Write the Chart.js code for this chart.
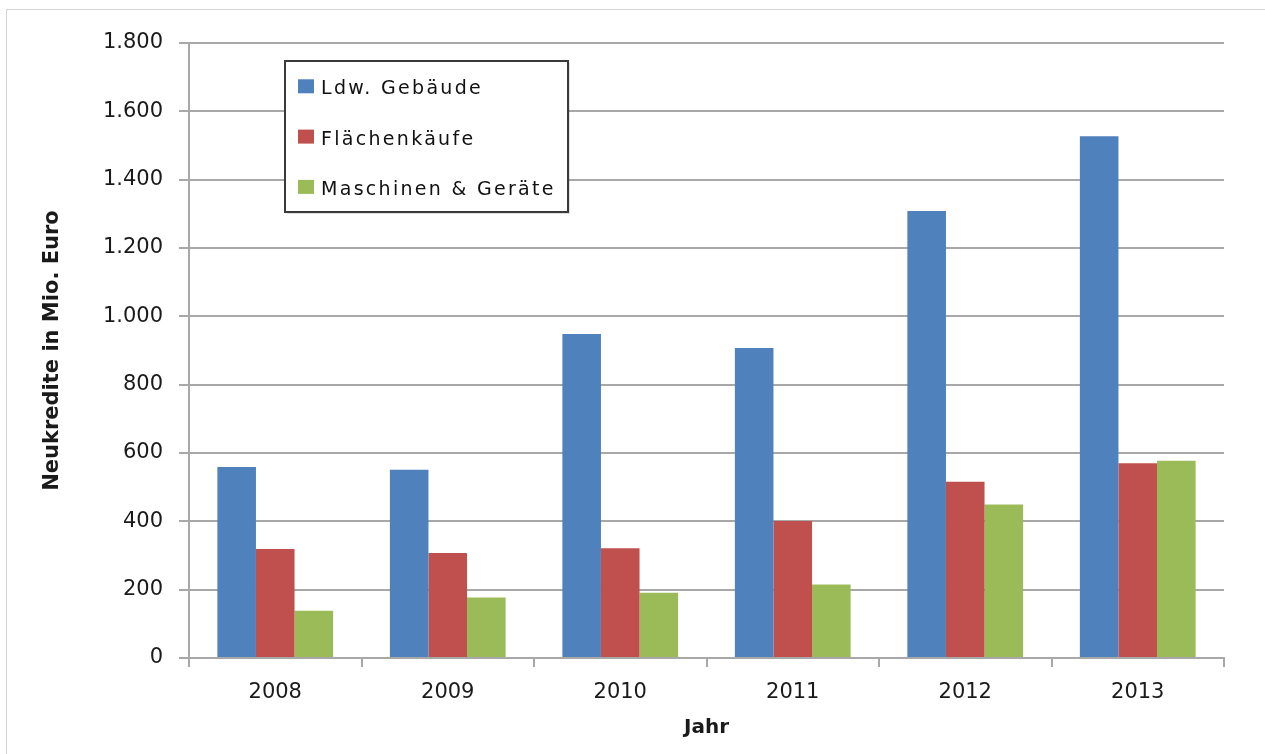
<!DOCTYPE html>
<html>
<head>
<meta charset="utf-8">
<script src="https://cdn.jsdelivr.net/npm/chart.js@4"></script>
<style>
  html, body { margin: 0; padding: 0; background: #ffffff; }
  #wrap { position: relative; width: 1265px; height: 754px; }
  canvas { display: block; }
</style>
</head>
<body>
<div id="wrap"><canvas id="c" width="1265" height="754"></canvas></div>
<script>
const categories = ['2008', '2009', '2010', '2011', '2012', '2013'];
const seriesNames = ['Ldw. Gebäude', 'Flächenkäufe', 'Maschinen & Geräte'];
const gebaeude = [559, 551, 948, 907, 1308, 1527];
const flaechen = [319, 307, 321, 401, 516, 570];
const maschinen = [138, 177, 191, 215, 449, 577];
const yTickLabels = ['0', '200', '400', '600', '800', '1.000', '1.200', '1.400', '1.600', '1.800'];
const colors = ['#4F81BD', '#C0504D', '#9BBB59'];
const yTitle = 'Neukredite in Mio. Euro';
const xTitle = 'Jahr';

const frame = {
  id: 'frame',
  beforeDraw(chart) {
    const ctx = chart.ctx;
    ctx.save();
    ctx.fillStyle = '#ffffff';
    ctx.fillRect(0, 0, chart.width, chart.height);
    ctx.strokeStyle = '#d4d4d4';
    ctx.lineWidth = 1;
    ctx.beginPath();
    ctx.moveTo(6.5, chart.height + 5);
    ctx.lineTo(6.5, 9.5);
    ctx.lineTo(chart.width + 5, 9.5);
    ctx.stroke();
    ctx.restore();
  }
};

const legendBox = {
  id: 'legendBox',
  afterDraw(chart) {
    const ctx = chart.ctx;
    ctx.save();
    const x = 285, y = 61, w = 283, h = 151;
    ctx.fillStyle = 'rgba(0,0,0,0.12)';
    ctx.fillRect(x + 2, y + 2, w, h);
    ctx.fillStyle = '#ffffff';
    ctx.fillRect(x, y, w, h);
    ctx.strokeStyle = '#3a3a3a';
    ctx.lineWidth = 2;
    ctx.strokeRect(x, y, w, h);
    ctx.font = '19px "DejaVu Sans"';
    ctx.letterSpacing = '2.3px';
    ctx.textBaseline = 'alphabetic';
    ctx.textAlign = 'left';
    chart.data.datasets.forEach((ds, i) => {
      const base = 94.3 + i * 50.3;
      ctx.fillStyle = ds.backgroundColor;
      ctx.fillRect(298, base - 15, 16, 14);
      ctx.fillStyle = '#111111';
      ctx.fillText(ds.label, 321, base);
    });
    ctx.restore();
  }
};

const seriesValues = [gebaeude, flaechen, maschinen];

new Chart(document.getElementById('c'), {
  type: 'bar',
  data: {
    labels: categories,
    datasets: seriesNames.map((n, i) => ({
      label: n,
      data: seriesValues[i],
      backgroundColor: colors[i],
      borderWidth: 0,
      barPercentage: 1.0,
      categoryPercentage: 0.671
    }))
  },
  options: {
    responsive: false,
    animation: false,
    devicePixelRatio: 1,
    layout: { padding: { left: 0, right: 41, top: 43, bottom: 0 } },
    plugins: {
      legend: { display: false },
      tooltip: { enabled: false }
    },
    scales: {
      x: {
        offset: true,
        grid: {
          offset: true,
          drawOnChartArea: false,
          drawTicks: true,
          tickLength: 9,
          color: '#a8a8a8',
          lineWidth: 2
        },
        border: { display: true, color: '#a8a8a8', width: 2 },
        ticks: {
          font: { family: 'DejaVu Sans', size: 21 },
          color: '#1a1a1a',
          padding: 13,
          maxRotation: 0
        },
        title: {
          display: true,
          text: xTitle,
          font: { family: 'DejaVu Sans', size: 20, weight: 'bold' },
          color: '#1a1a1a',
          padding: { top: 0, bottom: 14 }
        },
        afterFit(s) { s.height = 96; }
      },
      y: {
        min: 0,
        max: 1800,
        ticks: {
          stepSize: 200,
          font: { family: 'DejaVu Sans', size: 21 },
          color: '#1a1a1a',
          padding: 16,
          callback: (v, i) => yTickLabels[i]
        },
        grid: {
          color: '#a8a8a8',
          lineWidth: 2,
          drawTicks: true,
          tickLength: 10
        },
        border: { display: true, color: '#a8a8a8', width: 2 },
        title: {
          display: true,
          text: yTitle,
          font: { family: 'DejaVu Sans', size: 21, weight: 'bold' },
          color: '#1a1a1a',
          padding: { top: 40, bottom: 0 }
        },
        afterFit(s) { s.width = 189; }
      }
    }
  },
  plugins: [frame, legendBox]
});
</script>
</body>
</html>
